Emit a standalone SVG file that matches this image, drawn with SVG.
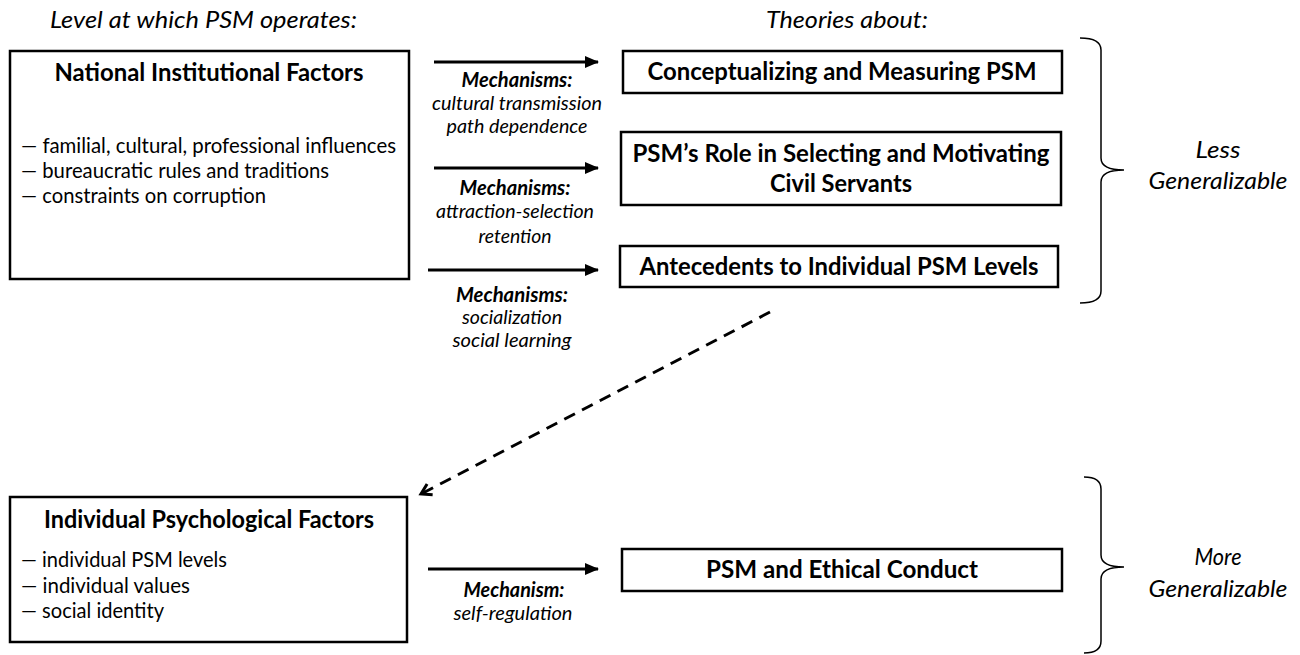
<svg xmlns="http://www.w3.org/2000/svg" width="1300" height="655" viewBox="0 0 1300 655">
<defs>
<style>
text{font-family:Lato,"Open Sans","Liberation Sans",sans-serif;fill:#000}
.hdr{font-size:24px;font-style:italic}
.ttl{font-size:25px;font-weight:bold}
.bul{font-size:21px}
.mb{font-size:20px;font-weight:bold;font-style:italic}
.mi{font-size:20px;font-style:italic}
.gen{font-size:24px;font-style:italic}
.box{fill:#fff;stroke:#000;stroke-width:2.5}
.arr{stroke:#000;stroke-width:3;fill:none}
.brace{stroke:#000;stroke-width:1.5;fill:none}
</style>
<marker id="ah" markerUnits="userSpaceOnUse" markerWidth="14" markerHeight="12" refX="13" refY="6" orient="auto">
<path d="M0,0 L14,6 L0,12 z" fill="#000"/>
</marker>
<marker id="oh" markerUnits="userSpaceOnUse" markerWidth="16" markerHeight="16" refX="12" refY="8" orient="auto">
<path d="M2,2 L12,8 L2,14" fill="none" stroke="#000" stroke-width="3"/>
</marker>
</defs>

<text class="hdr" x="50" y="28" textLength="307" lengthAdjust="spacingAndGlyphs">Level at which PSM operates:</text>
<text class="hdr" x="847" y="28" text-anchor="middle" textLength="162" lengthAdjust="spacingAndGlyphs">Theories about:</text>

<g id="national">
<rect class="box" x="10" y="51" width="399" height="228"/>
<text class="ttl" x="209" y="81" text-anchor="middle" textLength="309" lengthAdjust="spacingAndGlyphs">National Institutional Factors</text>
<text class="bul" x="21" y="153" textLength="375" lengthAdjust="spacingAndGlyphs">— familial, cultural, professional influences</text>
<text class="bul" x="21" y="178" textLength="308" lengthAdjust="spacingAndGlyphs">— bureaucratic rules and traditions</text>
<text class="bul" x="21" y="203" textLength="245" lengthAdjust="spacingAndGlyphs">— constraints on corruption</text>
</g>

<g id="individual">
<rect class="box" x="10" y="497" width="397" height="145"/>
<text class="ttl" x="209" y="528" text-anchor="middle" textLength="330" lengthAdjust="spacingAndGlyphs">Individual Psychological Factors</text>
<text class="bul" x="21" y="567" textLength="206" lengthAdjust="spacingAndGlyphs">— individual PSM levels</text>
<text class="bul" x="21" y="593" textLength="169" lengthAdjust="spacingAndGlyphs">— individual values</text>
<text class="bul" x="21" y="618" textLength="143" lengthAdjust="spacingAndGlyphs">— social identity</text>
</g>

<g id="conceptualizing">
<rect class="box" x="623" y="51" width="439" height="42"/>
<text class="ttl" x="842" y="80" text-anchor="middle" textLength="389" lengthAdjust="spacingAndGlyphs">Conceptualizing and Measuring PSM</text>
</g>

<g id="role">
<rect class="box" x="621" y="132" width="440" height="73"/>
<text class="ttl" x="841" y="162" text-anchor="middle" textLength="417" lengthAdjust="spacingAndGlyphs">PSM’s Role in Selecting and Motivating</text>
<text class="ttl" x="841" y="192" text-anchor="middle" textLength="142" lengthAdjust="spacingAndGlyphs">Civil Servants</text>
</g>

<g id="antecedents">
<rect class="box" x="620" y="246" width="438" height="41"/>
<text class="ttl" x="839" y="275" text-anchor="middle" textLength="399" lengthAdjust="spacingAndGlyphs">Antecedents to Individual PSM Levels</text>
</g>

<g id="ethical">
<rect class="box" x="622" y="549" width="440" height="42"/>
<text class="ttl" x="842" y="578" text-anchor="middle" textLength="272" lengthAdjust="spacingAndGlyphs">PSM and Ethical Conduct</text>
</g>

<g id="connectors">
<line class="arr" x1="434" y1="62" x2="598" y2="62" marker-end="url(#ah)"/>
<line class="arr" x1="434" y1="168" x2="598" y2="168" marker-end="url(#ah)"/>
<line class="arr" x1="428" y1="270" x2="598" y2="270" marker-end="url(#ah)"/>
<line class="arr" x1="428" y1="569" x2="598" y2="569" marker-end="url(#ah)"/>
<line class="arr" x1="770" y1="312" x2="421" y2="494" stroke-dasharray="12 8" marker-end="url(#oh)"/>
</g>

<g id="mech1">
<text class="mb" x="517" y="87" text-anchor="middle" textLength="111" lengthAdjust="spacingAndGlyphs">Mechanisms:</text>
<text class="mi" x="517" y="110" text-anchor="middle" textLength="170" lengthAdjust="spacingAndGlyphs">cultural transmission</text>
<text class="mi" x="517" y="133" text-anchor="middle" textLength="141" lengthAdjust="spacingAndGlyphs">path dependence</text>
</g>
<g id="mech2">
<text class="mb" x="515" y="195" text-anchor="middle" textLength="111" lengthAdjust="spacingAndGlyphs">Mechanisms:</text>
<text class="mi" x="515" y="218" text-anchor="middle" textLength="158" lengthAdjust="spacingAndGlyphs">attraction-selection</text>
<text class="mi" x="515" y="243" text-anchor="middle" textLength="73" lengthAdjust="spacingAndGlyphs">retention</text>
</g>
<g id="mech3">
<text class="mb" x="512" y="302" text-anchor="middle" textLength="112" lengthAdjust="spacingAndGlyphs">Mechanisms:</text>
<text class="mi" x="512" y="324" text-anchor="middle" textLength="100" lengthAdjust="spacingAndGlyphs">socialization</text>
<text class="mi" x="512" y="347" text-anchor="middle" textLength="119" lengthAdjust="spacingAndGlyphs">social learning</text>
</g>
<g id="mech4">
<text class="mb" x="514" y="597" text-anchor="middle" textLength="101" lengthAdjust="spacingAndGlyphs">Mechanism:</text>
<text class="mi" x="513" y="620" text-anchor="middle" textLength="119" lengthAdjust="spacingAndGlyphs">self-regulation</text>
</g>

<g id="less">
<path class="brace" d="M1080,38 Q1101,38 1101,50 L1101,158 Q1101,170 1124,170 Q1101,170 1101,182 L1101,291 Q1101,303 1080,303"/>
<text class="gen" x="1218" y="158" text-anchor="middle" textLength="45" lengthAdjust="spacingAndGlyphs">Less</text>
<text class="gen" x="1218" y="189" text-anchor="middle" textLength="139" lengthAdjust="spacingAndGlyphs">Generalizable</text>
</g>
<g id="more">
<path class="brace" d="M1084,477 Q1101,477 1101,489 L1101,555 Q1101,567 1124,567 Q1101,567 1101,579 L1101,641 Q1101,653 1084,653"/>
<text class="gen" x="1218" y="565" text-anchor="middle" textLength="47" lengthAdjust="spacingAndGlyphs">More</text>
<text class="gen" x="1218" y="597" text-anchor="middle" textLength="139" lengthAdjust="spacingAndGlyphs">Generalizable</text>
</g>
</svg>
